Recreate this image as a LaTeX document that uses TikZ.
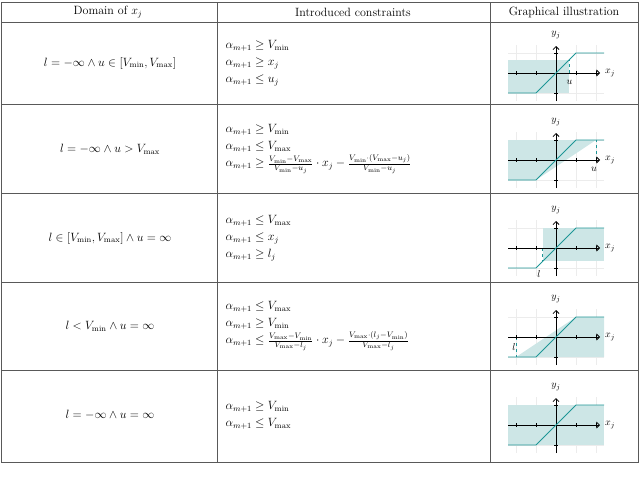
\documentclass[tikz,border=0pt]{standalone}
\usepackage{amsmath}
\usetikzlibrary{arrows.meta}
\definecolor{teal1}{RGB}{30,150,150}
\definecolor{shade1}{RGB}{205,230,230}
\tikzset{cell/.style={font=\fontsize{12}{17}\selectfont},
  gridl/.style={gray!15,line width=0.4pt},
  plotl/.style={teal1,line width=0.9pt},
  dashl/.style={teal1,dashed,line width=0.6pt},
  axis/.style={line width=0.8pt,-{Straight Barb[length=3pt]}}}
\newcommand{\graphbase}[1]{%
  \foreach \gx in {-2,-1,1,2} \draw[gridl] (\gx,-1.4) -- (\gx,1.4);
  \foreach \gy in {-1,1} \draw[gridl] (-2.4,\gy) -- (2.4,\gy);
  #1
  \draw[axis] (-2.4,0) -- (2.2,0);
  \draw[axis] (0,-1.4) -- (0,1.35);
  \foreach \gx in {-2,-1,1,2} \draw[line width=0.6pt] (\gx,-0.08) -- (\gx,0.08);
  \foreach \gy in {-1,1} \draw[line width=0.6pt] (-0.08,\gy) -- (0.08,\gy);
  \draw[plotl] (-2.4,-1) -- (-1,-1) -- (1,1) -- (2.4,1);
  \node[font=\fontsize{10}{10}\selectfont] (yl) at (0,1.9) {$y_j$};
  \node[font=\fontsize{10}{10}\selectfont] (xl) at (2.7,0) {$x_j$};}
\begin{document}
\begin{tikzpicture}[x=1pt,y=-1pt]
\useasboundingbox (0,0) rectangle (640,477);
\draw[gray!70!black,line width=0.8pt] (1,2) rectangle (638,462);
\foreach \yy in {22,104,193,282,370} \draw[gray!70!black,line width=0.8pt] (1,\yy) -- (638,\yy);
\draw[gray!70!black,line width=0.8pt] (217,2) -- (217,462) (490,2) -- (490,462);
\node[cell] (h1) at (108,12) {Domain of $x_j$};
\node[cell] (h2) at (353,12) {Introduced constraints};
\node[cell] (h3) at (564,12) {Graphical illustration};
% col1
\node[cell] (d1) at (110,63) {$l=-\infty\wedge u\in[V_{\min},V_{\max}]$};
\node[cell] (d2) at (110,149) {$l=-\infty\wedge u>V_{\max}$};
\node[cell] (d3) at (110,238) {$l\in[V_{\min},V_{\max}]\wedge u=\infty$};
\node[cell] (d4) at (110,326) {$l<V_{\min}\wedge u=\infty$};
\node[cell] (d5) at (110,415) {$l=-\infty\wedge u=\infty$};
% col2
\node[cell,anchor=west,align=left] (c1) at (222,63) {$\alpha_{m+1}\geq V_{\min}$\\ $\alpha_{m+1}\geq x_j$\\ $\alpha_{m+1}\leq u_j$};
\node[cell,anchor=west,align=left] (c2) at (222,149) {$\alpha_{m+1}\geq V_{\min}$\\ $\alpha_{m+1}\leq V_{\max}$\\ $\alpha_{m+1}\geq \frac{V_{\min}-V_{\max}}{V_{\min}-u_j}\cdot x_j-\frac{V_{\min}\cdot(V_{\max}-u_j)}{V_{\min}-u_j}$};
\node[cell,anchor=west,align=left] (c3) at (222,238) {$\alpha_{m+1}\leq V_{\max}$\\ $\alpha_{m+1}\leq x_j$\\ $\alpha_{m+1}\geq l_j$};
\node[cell,anchor=west,align=left] (c4) at (222,326) {$\alpha_{m+1}\leq V_{\max}$\\ $\alpha_{m+1}\geq V_{\min}$\\ $\alpha_{m+1}\leq \frac{V_{\max}-V_{\min}}{V_{\max}-l_j}\cdot x_j-\frac{V_{\max}\cdot(l_j-V_{\min})}{V_{\max}-l_j}$};
\node[cell,anchor=west,align=left] (c5) at (222,415) {$\alpha_{m+1}\geq V_{\min}$\\ $\alpha_{m+1}\leq V_{\max}$};
% graphs
\begin{scope}[shift={(556,73)},x=20pt,y=20pt]
\graphbase{\fill[shade1] (-2.4,-1) rectangle (0.67,0.67);
  \draw[dashl] (0.67,0) -- (0.67,0.67);
  \node[font=\fontsize{10}{10}\selectfont] (u1) at (0.67,-0.45) {$u$};}
\end{scope}
\begin{scope}[shift={(556,160)},x=20pt,y=20pt]
\graphbase{\fill[shade1] (-2.4,-1) -- (-1,-1) -- (2,1) -- (-2.4,1) -- cycle;
  \draw[dashl] (2,0) -- (2,1);
  \node[font=\fontsize{10}{10}\selectfont] (u2) at (1.9,-0.45) {$u$};}
\end{scope}
\begin{scope}[shift={(556,248)},x=20pt,y=20pt]
\graphbase{\fill[shade1] (-0.67,-0.67) rectangle (2.4,1);
  \draw[dashl] (-0.67,0) -- (-0.67,-0.67);
  \node[font=\fontsize{10}{10}\selectfont] (l3) at (-0.85,-1.3) {$l$};}
\end{scope}
\begin{scope}[shift={(556,337)},x=20pt,y=20pt]
\graphbase{\fill[shade1] (-2,-1) -- (1,1) -- (2.4,1) -- (2.4,-1) -- cycle;
  \draw[dashl] (-2,0) -- (-2,-1);
  \node[font=\fontsize{10}{10}\selectfont] (l4) at (-2.1,-0.5) {$l$};}
\end{scope}
\begin{scope}[shift={(556,425)},x=20pt,y=20pt]
\graphbase{\fill[shade1] (-2.4,-1) rectangle (2.4,1);}
\end{scope}
\end{tikzpicture}
\end{document}
